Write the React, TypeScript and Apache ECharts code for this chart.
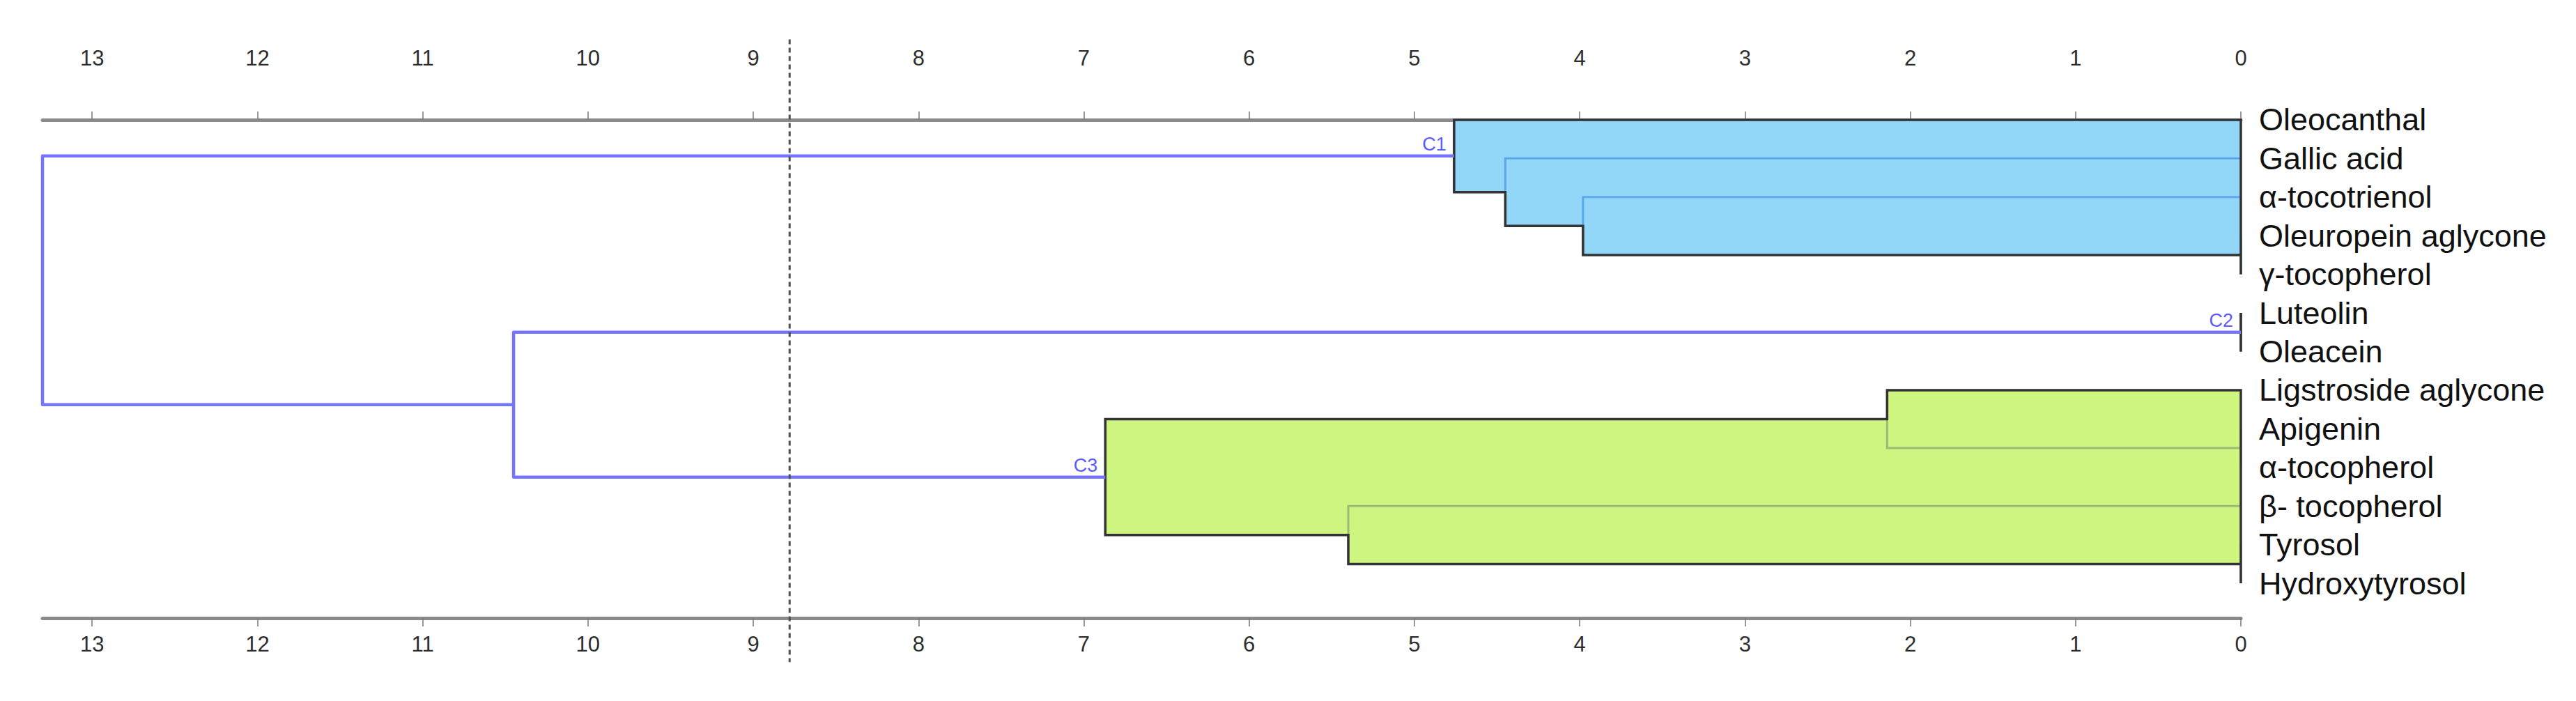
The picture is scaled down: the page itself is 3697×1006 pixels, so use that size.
import React, { useEffect, useRef } from "react";
import * as echarts from "echarts";

// ---------------- data ----------------
const leafNames = [
  "Oleocanthal",
  "Gallic acid",
  "α-tocotrienol",
  "Oleuropein aglycone",
  "γ-tocopherol",
  "Luteolin",
  "Oleacein",
  "Ligstroside aglycone",
  "Apigenin",
  "α-tocopherol",
  "β- tocopherol",
  "Tyrosol",
  "Hydroxytyrosol",
];

// agglomeration steps: leaves are nodes 0..12, step k creates node 13 + k
const mergeFirst = [3, 2, 1, 0, 5, 8, 7, 11, 10, 19, 17, 16];
const mergeSecond = [4, 13, 14, 15, 6, 9, 18, 12, 20, 21, 22, 23];
const mergeHeight = [0, 3.98, 4.45, 4.76, 0, 0, 2.14, 0, 5.4, 6.87, 10.45, 13.3];

const clusterNodes = [16, 17, 22];
const clusterNames = ["C1", "C2", "C3"];
const truncationLevel = 8.78;
const distanceTicks = [0, 1, 2, 3, 4, 5, 6, 7, 8, 9, 10, 11, 12, 13];
const distanceMax = 13.3;

// ---------------- styles ----------------
const FONT = "Liberation Sans";
const clusterFill = ["#93d7f8", "rgba(0,0,0,0)", "#cff581"];
const clusterInner = ["#5ea6f0", "#333333", "#9bbb78"];
const outlineColor = "#333333";
const linkColor = "#7474ff";

// ---------------- tree geometry (data units) ----------------
const nLeaf = leafNames.length;
const nodeX: number[] = [];
const nodeY: number[] = [];
const kids: number[][] = [];
for (let i = 0; i < nLeaf; i++) {
  nodeX.push(0);
  nodeY.push(i);
  kids.push([]);
}
mergeFirst.forEach((a, k) => {
  const b = mergeSecond[k];
  nodeX.push(mergeHeight[k]);
  nodeY.push((nodeY[a] + nodeY[b]) / 2);
  kids.push(nodeY[a] <= nodeY[b] ? [a, b] : [b, a]);
});

const clusterOf: number[] = nodeX.map(() => -1);
const mark = (n: number, c: number) => {
  clusterOf[n] = c;
  kids[n].forEach((k) => mark(k, c));
};
clusterNodes.forEach((n, c) => mark(n, c));

// brackets: [xa, ya, h, yb, xb, kind]  kind: -1 above cut, else cluster idx
const bracketData: number[][] = [];
for (let n = nLeaf; n < nodeX.length; n++) {
  const [a, b] = kids[n];
  bracketData.push([nodeX[a], nodeY[a], nodeX[n], nodeY[b], nodeX[b], clusterOf[n]]);
}

const contour = (node: number, top: boolean) => {
  const pts: number[][] = [];
  let cur = node;
  while (kids[cur].length) {
    const ch = top ? kids[cur][0] : kids[cur][1];
    pts.push([nodeX[cur], nodeY[ch]]);
    pts.push([nodeX[ch], nodeY[ch]]);
    cur = ch;
  }
  return pts;
};
const clusterPolygons = clusterNodes.map((n) =>
  contour(n, true).concat(contour(n, false).reverse())
);
const clusterData = clusterNodes.map((n, c) => [nodeX[n], nodeY[n], c]);

export default function App() {
  const ref = useRef<HTMLDivElement>(null);

  useEffect(() => {
    if (!ref.current) return;
    const chart = echarts.init(ref.current, undefined, { renderer: "svg" });

    const xAxisBase = (position: "top" | "bottom", margin: number) => ({
      type: "value",
      position,
      min: 0,
      max: distanceMax,
      inverse: true,
      splitLine: { show: false },
      axisLine: { show: true, lineStyle: { color: "#8a8a8a", width: 5 } },
      axisTick: {
        show: true,
        length: 12,
        customValues: distanceTicks,
        lineStyle: { color: "#777777", width: 1.5 },
      },
      axisLabel: {
        show: true,
        customValues: distanceTicks,
        margin,
        fontSize: 31,
        color: "#2e2e2e",
        fontFamily: FONT,
      },
    });

    const option: any = {
      animation: false,
      backgroundColor: "#ffffff",
      grid: { left: 61, right: 481, top: 122, bottom: 119, containLabel: false, outerBoundsMode: "none" },
      xAxis: [xAxisBase("top", 23), xAxisBase("bottom", 22)],
      yAxis: {
        type: "value",
        position: "right",
        inverse: true,
        min: -0.9,
        max: 12.9,
        axisLine: { show: false },
        axisTick: { show: false },
        splitLine: { show: false },
        axisLabel: {
          show: true,
          customValues: leafNames.map((_, i) => i),
          formatter: (v: number) => leafNames[Math.round(v)] ?? "",
          margin: 26,
          fontSize: 45,
          color: "#111111",
          fontFamily: FONT,
        },
      },
      series: [
        {
          type: "custom",
          name: "fill",
          z: 2,
          clip: false,
          data: clusterData,
          encode: { x: 0, y: 1 },
          renderItem: (_p: any, api: any) => {
            const c = api.value(2);
            return {
              type: "polygon",
              shape: { points: clusterPolygons[c].map((p) => api.coord(p)) },
              style: { fill: clusterFill[c], stroke: "none" },
            };
          },
        },
        {
          type: "custom",
          name: "inner",
          z: 3,
          clip: false,
          data: bracketData.filter((d) => d[5] >= 0),
          encode: { x: [0, 2, 4], y: [1, 3] },
          renderItem: (_p: any, api: any) => {
            const k = api.value(5);
            const pts = [
              api.coord([api.value(0), api.value(1)]),
              api.coord([api.value(2), api.value(1)]),
              api.coord([api.value(2), api.value(3)]),
              api.coord([api.value(4), api.value(3)]),
            ];
            return {
              type: "polyline",
              shape: { points: pts },
              style: { stroke: clusterInner[k], lineWidth: 3, fill: "none" },
            };
          },
        },
        {
          type: "custom",
          name: "outline",
          z: 4,
          clip: false,
          data: clusterData,
          encode: { x: 0, y: 1 },
          renderItem: (_p: any, api: any) => {
            const c = api.value(2);
            return {
              type: "polygon",
              shape: { points: clusterPolygons[c].map((p) => api.coord(p)) },
              style: { fill: "none", stroke: outlineColor, lineWidth: 3.5, lineJoin: "miter" },
            };
          },
        },
        {
          type: "custom",
          name: "links",
          z: 5,
          clip: false,
          data: bracketData.filter((d) => d[5] < 0),
          encode: { x: [0, 2, 4], y: [1, 3] },
          renderItem: (_p: any, api: any) => {
            const pts = [
              api.coord([api.value(0), api.value(1)]),
              api.coord([api.value(2), api.value(1)]),
              api.coord([api.value(2), api.value(3)]),
              api.coord([api.value(4), api.value(3)]),
            ];
            return {
              type: "polyline",
              shape: { points: pts },
              style: { stroke: linkColor, lineWidth: 4.5, fill: "none", lineJoin: "round" },
            };
          },
        },
        {
          type: "custom",
          name: "truncation",
          z: 6,
          clip: false,
          data: [[truncationLevel, 0]],
          encode: { x: 0, y: 1 },
          renderItem: (_p: any, api: any) => {
            const p1 = api.coord([api.value(0), -2.08]);
            const p2 = api.coord([api.value(0), 14.04]);
            return {
              type: "line",
              shape: { x1: p1[0], y1: p1[1], x2: p2[0], y2: p2[1] },
              style: { stroke: "#505050", lineWidth: 3, lineDash: [7, 5] },
            };
          },
        },
        {
          type: "custom",
          name: "clusterLabels",
          z: 7,
          clip: false,
          data: clusterData,
          encode: { x: 0, y: 1 },
          renderItem: (_p: any, api: any) => {
            const c = api.value(2);
            const p = api.coord([api.value(0), api.value(1)]);
            return {
              type: "text",
              x: p[0] - 11,
              y: p[1] - 3,
              style: {
                text: clusterNames[c],
                fill: "#5a5aff",
                fontSize: 27,
                fontFamily: FONT,
                textAlign: "right",
                textVerticalAlign: "bottom",
              },
            };
          },
        },
      ],
    };

    chart.setOption(option);
    return () => chart.dispose();
  }, []);

  return (
    <div
      ref={ref}
      style={{ position: "fixed", left: 0, top: 0, width: 3697, height: 1006, background: "#fff" }}
    />
  );
}
